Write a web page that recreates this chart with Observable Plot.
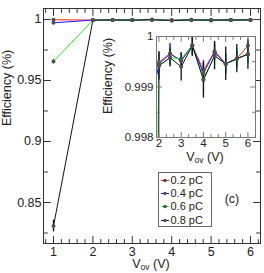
<!DOCTYPE html>
<html><head><meta charset="utf-8">
<script src="https://cdn.jsdelivr.net/npm/d3@7"></script>
<script src="https://cdn.jsdelivr.net/npm/@observablehq/plot@0.6"></script>
<style>
body{margin:0;background:#fff;}
#wrap{position:relative;width:264px;height:273px;font-family:"Liberation Sans",Arial,sans-serif;color:#222;}
#wrap svg{position:absolute;overflow:visible;}
.lbl{position:absolute;font-size:12.5px;white-space:nowrap;transform:translate(-50%,-50%);line-height:1;}
.lbl.rot{transform:translate(-50%,-50%) rotate(-90deg);}
.lbl sub{font-size:8.5px;vertical-align:-2px;line-height:0;}
#legend{position:absolute;left:158px;top:172px;width:52px;height:53px;border:1px solid #666;background:#fff;font-size:11px;}
#legend .row{height:13.4px;display:flex;align-items:center;}
</style></head><body><div id="wrap"></div>
<script>
// ---- data ----
const voltages = [1, 2, 2.5, 3, 3.5, 4, 4.5, 5, 5.5, 6];
const charges = ["0.2 pC", "0.4 pC", "0.6 pC", "0.8 pC"];
const colors = ["#ff2020", "#1818ff", "#22ee22", "#111111"];
const eff02 = [0.9998, 0.99949, 0.99966, 0.99952, 0.99982, 0.99933, 0.99969, 0.99946, 0.99956, 0.99982];
const eff04 = [0.9973, 0.99945, 0.99966, 0.99952, 0.99982, 0.99927, 0.99971, 0.99946, 0.99956, 0.99965];
const eff06 = [0.9656, 0.99942, 0.99958, 0.99956, 0.99982, 0.99916, 0.99962, 0.99946, 0.99956, 0.99965];
const eff08 = [0.8307, 0.99942, 0.99958, 0.99940, 0.99982, 0.99914, 0.99962, 0.99946, 0.99956, 0.99965];
const err02 = [0.0005, 0.0002, 0.00015, 0.00015, 0.0002, 0.0002, 0.00015, 0.0002, 0.00015, 0.0001];
const err04 = [0.0005, 0.0002, 0.0002, 0.00015, 0.0002, 0.0002, 0.00018, 0.0002, 0.00015, 0.00015];
const err06 = [0.002, 0.0002, 0.00018, 0.0001, 0.0002, 0.0003, 0.0002, 0.0002, 0.0002, 0.0002];
const err08 = [0.0048, 0.00028, 0.00018, 0.00028, 0.00021, 0.00036, 0.00028, 0.00033, 0.00028, 0.0003];
const mainXTicks = [1, 2, 3, 4, 5, 6];
const mainYTicks = [0.85, 0.9, 0.95, 1];
const insetXTicks = [2, 3, 4, 5, 6];
const insetYTicks = [0.998, 0.999, 1];

const effs = [eff02, eff04, eff06, eff08];
const errs = [err02, err04, err06, err08];
const rows = [];
charges.forEach((q, s) => voltages.forEach((v, i) => rows.push({q, v, e: effs[s][i], err: errs[s][i]})));

const fmt = d => String(+d.toFixed(4));
const tickShape = {draw(ctx, l) { ctx.moveTo(0, 0); ctx.lineTo(0, -l); }};
function sideTicks(values, side, len, stroke) {
  const rot = {left: 90, right: -90, bottom: 0, top: 180}[side];
  const ch = (side === "left" || side === "right") ? {y: d => d} : {x: d => d};
  return Plot.vector(values, {...ch, frameAnchor: side, length: len, rotate: rot, anchor: "start", shape: tickShape, stroke, strokeWidth: 1});
}
function minorOf(majors, step, lo, hi) {
  const out = [];
  for (let k = Math.round(lo / step); k * step <= hi + 1e-9; k++) {
    const t = +(k * step).toFixed(6);
    if (!majors.some(m => Math.abs(m - t) < 1e-9)) out.push(t);
  }
  return out;
}
function dataMarks(opts) {
  return [
    Plot.line(rows, {x: "v", y: "e", z: "q", stroke: "q", strokeWidth: 1, ...opts}),
    Plot.ruleX(rows, {x: "v", y1: d => d.e - d.err, y2: d => d.e + d.err, stroke: "q", strokeWidth: 1.3, ...opts}),
    Plot.dot(rows, {x: "v", y: "e", r: 2, fill: "#505050", ...opts})
  ];
}

const wrap = document.getElementById("wrap");

// ---- main chart ----
const xMinor = minorOf(mainXTicks, 0.2, 0.8, 6.2);
const yMinor = minorOf(mainYTicks, 0.025, 0.825, 1.0);
const main = Plot.plot({
  width: 264, height: 273,
  marginLeft: 43, marginRight: 4, marginTop: 8, marginBottom: 30,
  style: {fontFamily: "Liberation Sans, Arial, sans-serif", fontSize: "12.5px", color: "#222", background: "transparent"},
  x: {domain: [0.746, 6.254]},
  y: {domain: [0.8164, 1.009]},
  color: {domain: charges, range: colors},
  marks: [
    ...dataMarks({}),
    Plot.axisX(mainXTicks, {tickSize: 0, tickPadding: 4, tickFormat: fmt, label: null, fontSize: 12.5}),
    Plot.axisY(mainYTicks, {tickSize: 0, tickPadding: 2, tickFormat: fmt, label: null, fontSize: 12.5}),
    sideTicks(mainXTicks, "bottom", 7, "#333"), sideTicks(xMinor, "bottom", 4, "#333"),
    sideTicks(mainXTicks, "top", 7, "#333"), sideTicks(xMinor, "top", 4, "#333"),
    sideTicks(mainYTicks, "left", 7, "#333"), sideTicks(yMinor, "left", 4, "#333"),
    sideTicks(mainYTicks, "right", 7, "#333"), sideTicks(yMinor, "right", 4, "#333"),
    Plot.frame({stroke: "#333"}),
    Plot.text(["Efficiency (%)"], {text: d => d, frameAnchor: "left", dx: -37, rotate: -90, fontSize: 12.5, fill: "#222"})
  ]
});
main.style.left = "0px"; main.style.top = "0px";
wrap.appendChild(main);

// ---- inset ----
const ixMinor = minorOf(insetXTicks, 1 / 3, 2, 6.34).filter(t => t > 1.9);
const iyMinor = [0.9985, 0.9995];
const inset = Plot.plot({
  width: 160, height: 135,
  marginLeft: 56, marginRight: 5, marginTop: 8, marginBottom: 26,
  style: {fontFamily: "Liberation Sans, Arial, sans-serif", fontSize: "11.5px", color: "#222", background: "transparent"},
  x: {domain: [1.89, 6.34]},
  y: {domain: [0.998, 1.0]},
  color: {domain: charges, range: colors},
  marks: [
    Plot.frame({fill: "white", stroke: "none"}),
    ...dataMarks({clip: true}),
    Plot.axisX(insetXTicks, {tickSize: 0, tickPadding: 1, tickFormat: fmt, label: null, fontSize: 11.5}),
    Plot.axisY(insetYTicks, {tickSize: 0, tickPadding: 3, tickFormat: fmt, label: null, fontSize: 11.5}),
    sideTicks(insetXTicks, "bottom", 5, "#777"), sideTicks(ixMinor, "bottom", 3, "#777"),
    sideTicks(insetXTicks, "top", 5, "#777"), sideTicks(ixMinor, "top", 3, "#777"),
    sideTicks(insetYTicks, "left", 5, "#777"), sideTicks(iyMinor, "left", 3, "#777"),
    sideTicks(insetYTicks, "right", 5, "#777"), sideTicks(iyMinor, "right", 3, "#777"),
    Plot.frame({stroke: "#777"})
  ]
});
inset.style.left = "100px"; inset.style.top = "28px";
wrap.appendChild(inset);

// ---- HTML labels ----
function addLabel(html, x, y, cls) {
  const d = document.createElement("div");
  d.className = "lbl" + (cls ? " " + cls : ""); d.innerHTML = html;
  d.style.left = x + "px"; d.style.top = y + "px";
  wrap.appendChild(d);
}
addLabel("Efficiency (%)", 108, 76, "rot");
addLabel("V<sub>ov</sub> (V)", 151, 264);
addLabel("V<sub>ov</sub> (V)", 205, 157);
addLabel("(c)", 232, 199);

// ---- legend ----
const leg = document.createElement("div");
leg.id = "legend";
charges.forEach((q, s) => {
  const r = document.createElement("div");
  r.className = "row";
  r.innerHTML = `<svg width="10" height="10" style="position:static;margin-left:1px;margin-right:0.5px"><line x1="1" x2="9" y1="5.5" y2="5.5" stroke="${colors[s]}" stroke-width="1"/><circle cx="5" cy="5.5" r="1.8" fill="#505050"/></svg><span>${q}</span>`;
  leg.appendChild(r);
});
wrap.appendChild(leg);
</script></body></html>
